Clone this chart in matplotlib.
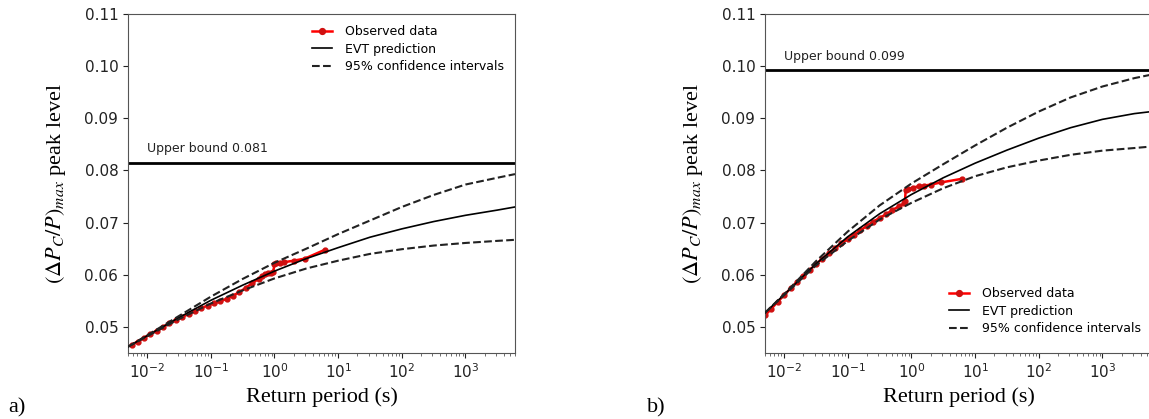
import matplotlib
matplotlib.use('Agg')
import matplotlib.pyplot as plt
from matplotlib.ticker import FormatStrFormatter, LogLocator, NullFormatter

plt.rcParams['mathtext.fontset'] = 'stix'
plt.rcParams['font.family'] = 'DejaVu Sans'

# return periods (s) at which the fitted curves were read
curve_T = [0.005, 0.01, 0.0316, 0.1, 0.316, 1, 3.16, 10, 31.6, 100, 316, 1000, 3162, 6000]

# panel a) curves
evt_a = [0.0462, 0.0483, 0.0518, 0.0551, 0.0580, 0.0607, 0.0631, 0.0652, 0.0672, 0.0688, 0.0702, 0.0714, 0.0724, 0.0730]
upper_a = [0.0462, 0.0484, 0.0521, 0.0558, 0.0592, 0.0623, 0.0650, 0.0678, 0.0704, 0.0730, 0.0753, 0.0773, 0.0786, 0.0793]
lower_a = [0.0462, 0.0482, 0.0515, 0.0545, 0.0570, 0.0593, 0.0612, 0.0627, 0.0640, 0.0649, 0.0656, 0.0661, 0.0665, 0.0667]
bound_a = 0.0815

# panel a) observed data
obs_T_a = [0.00575, 0.0071, 0.0089, 0.0112, 0.0141, 0.0178, 0.0224, 0.0282, 0.0355, 0.0447,
           0.0562, 0.0708, 0.0891, 0.112, 0.141, 0.178, 0.224, 0.282, 0.355, 0.447,
           0.562, 0.63, 0.708, 0.79, 0.89, 0.955, 1.0, 1.05, 1.2, 1.41, 2.0, 3.0, 6.2]
obs_a = [0.0466, 0.0472, 0.0479, 0.0486, 0.0493, 0.0500, 0.0507, 0.0513, 0.0519, 0.0525,
         0.0530, 0.0536, 0.0541, 0.0545, 0.0549, 0.0554, 0.0560, 0.0567, 0.0575, 0.0584,
         0.0592, 0.0597, 0.0602, 0.0603, 0.0604, 0.0606, 0.0620, 0.0622, 0.0623, 0.0624, 0.0627, 0.0631, 0.0648]

# panel b) curves
evt_b = [0.0527, 0.0562, 0.0621, 0.0673, 0.0717, 0.0754, 0.0786, 0.0814, 0.0839, 0.0862, 0.0882, 0.0898, 0.0909, 0.0913]
upper_b = [0.0527, 0.0563, 0.0626, 0.0683, 0.0733, 0.0775, 0.0812, 0.0848, 0.0882, 0.0913, 0.0940, 0.0961, 0.0977, 0.0984]
lower_b = [0.0527, 0.0561, 0.0618, 0.0665, 0.0706, 0.0738, 0.0766, 0.0789, 0.0806, 0.0819, 0.0830, 0.0838, 0.0843, 0.0846]
bound_b = 0.0992

# panel b) observed data
obs_T_b = [0.0050, 0.0063, 0.0079, 0.010, 0.0126, 0.0158, 0.020, 0.0251, 0.0316, 0.0398,
           0.050, 0.063, 0.0794, 0.10, 0.126, 0.158, 0.20, 0.251, 0.316, 0.398,
           0.50, 0.63, 0.76, 0.79, 0.81, 0.87, 1.05, 1.32, 1.58, 2.04, 2.9, 6.2]
obs_b = [0.0522, 0.0535, 0.0548, 0.0561, 0.0574, 0.0586, 0.0598, 0.0609, 0.0620, 0.0631,
         0.0641, 0.0651, 0.0660, 0.0669, 0.0677, 0.0685, 0.0694, 0.0702, 0.0709, 0.0716,
         0.0724, 0.0731, 0.0737, 0.0741, 0.0762, 0.0764, 0.0767, 0.0770, 0.0771, 0.0773, 0.0777, 0.0784]

serif = 'Liberation Serif'

fig = plt.figure(figsize=(11.49, 4.19), dpi=100)
W, H = 1149, 419
ax_a = fig.add_axes([128 / W, (H - 353) / H, 387 / W, 339 / H])
ax_b = fig.add_axes([765 / W, (H - 353) / H, 387 / W, 339 / H])

panels = [
    (ax_a, obs_T_a, obs_a, evt_a, upper_a, lower_a, bound_a, 'Upper bound 0.081', 'upper right', (1.0, 1.0)),
    (ax_b, obs_T_b, obs_b, evt_b, upper_b, lower_b, bound_b, 'Upper bound 0.099', 'lower right', (1.0, 0.02)),
]

for ax, oT, ov, evt, up, lo, ub, ub_text, loc, anchor in panels:
    ax.plot(oT, ov, 'o-', color='red', lw=1.8, ms=3.5, mfc='#d01010', mec='#d01010',
            label='Observed data', zorder=2)
    ax.plot(curve_T, evt, '-', color='black', lw=1.2, label='EVT prediction', zorder=3)
    ax.plot(curve_T, up, '--', color='#222222', lw=1.5, label='95% confidence intervals', zorder=3)
    ax.plot(curve_T, lo, '--', color='#222222', lw=1.5, zorder=3)
    ax.axhline(ub, color='black', lw=2.0)
    ax.text(0.01, ub + 0.0014, ub_text, fontsize=9, ha='left', va='bottom', color='#222222')

    ax.set_xscale('log')
    ax.set_xlim(0.005, 6000)
    ax.set_ylim(0.045, 0.11)
    ax.set_yticks([0.05, 0.06, 0.07, 0.08, 0.09, 0.10, 0.11])
    ax.yaxis.set_major_formatter(FormatStrFormatter('%.2f'))
    ax.set_xticks([0.01, 0.1, 1, 10, 100, 1000])
    ax.xaxis.set_minor_locator(LogLocator(base=10, subs=range(2, 10), numticks=100))
    ax.xaxis.set_minor_formatter(NullFormatter())
    ax.tick_params(labelsize=11, colors='#222222')
    ax.tick_params(which='minor', length=2, color='#555555')
    for s in ax.spines.values():
        s.set_color('#555555')

    ax.set_xlabel('Return period (s)', fontsize=16, family=serif)
    ax.set_ylabel(r'$(\Delta P_C/P)_{max}$ peak level', fontsize=16, family=serif)
    ax.yaxis.set_label_coords(-0.155, 0.5)

    ax.legend(loc=loc, bbox_to_anchor=anchor, frameon=False, fontsize=9,
              handlelength=1.6, handletextpad=1.0, labelspacing=0.35, markerscale=1.2)

fig.text(8 / W, (H - 412) / H, 'a)', fontsize=16, family=serif)
fig.text(647 / W, (H - 412) / H, 'b)', fontsize=16, family=serif)

fig.savefig('out.png', dpi=100)
